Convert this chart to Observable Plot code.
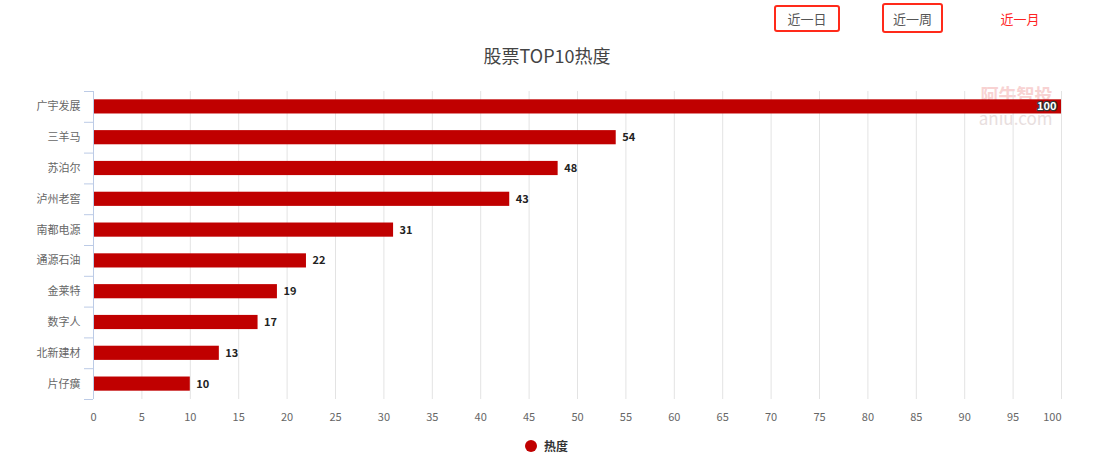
<!DOCTYPE html>
<html><head><meta charset="utf-8">
<script src="https://cdn.jsdelivr.net/npm/d3@7"></script>
<script src="https://cdn.jsdelivr.net/npm/@observablehq/plot@0.6"></script>
<style>
html,body{margin:0;padding:0;background:#fff;}
body{width:1108px;height:468px;position:relative;overflow:hidden;font-family:"Noto Sans CJK SC","Noto Sans",sans-serif;}
#chart{position:absolute;left:0;top:0;}
.btn{position:absolute;box-sizing:border-box;font-size:13px;color:#555;display:flex;align-items:center;justify-content:center;}
.boxed{border:2px solid #ff2a1a;border-radius:3px;}
#title{position:absolute;left:0;width:1094px;top:42px;text-align:center;font-size:18px;color:#444;}
#legend{position:absolute;top:437px;left:525px;display:flex;align-items:center;font-size:12px;color:#333;font-weight:bold;}
#legend span.dot{width:12px;height:12px;border-radius:50%;background:#c00000;display:inline-block;margin-right:7px;}
</style>
</head><body>
<div id="chart"></div>
<div id="title">股票TOP10热度</div>
<div class="btn boxed" style="left:774px;top:5px;width:66px;height:27px;">近一日</div>
<div class="btn boxed" style="left:882px;top:3px;width:61px;height:30px;">近一周</div>
<div class="btn" style="left:990px;top:5px;width:60px;height:27px;color:#ff2222;">近一月</div>
<div id="legend"><span class="dot"></span>热度</div>
<script>
const categories = ["广宇发展","三羊马","苏泊尔","泸州老窖","南都电源","通源石油","金莱特","数字人","北新建材","片仔癀"];
const values = [100,54,48,43,31,22,19,17,13,10];
const xTicks = [0,5,10,15,20,25,30,35,40,45,50,55,60,65,70,75,80,85,90,95,100];
const seriesName = "热度";

const data = categories.map((c,i)=>({name:c, value:values[i]}));
const maxVal = d3.max(values);
const inside = data.filter(d=>d.value===maxVal);
const outside = data.filter(d=>d.value!==maxVal);
const step = (468-91-69)/categories.length;

const chart = Plot.plot({
  width:1108, height:468,
  marginTop:91, marginBottom:69, marginLeft:93, marginRight:47,
  style:{fontFamily:'"Noto Sans CJK SC","Noto Sans",sans-serif', background:"transparent"},
  x:{domain:[0,100], label:null},
  y:{domain:categories, paddingInner:0.54, paddingOuter:0.27, align:0.5, round:false, label:null},
  marks:[
    Plot.text(["阿牛智投"],{frameAnchor:"top-right", lineAnchor:"middle", dx:-9, dy:5, fontSize:18, fontWeight:"bold", fill:"#f8d2d2", textAnchor:"end"}),
    Plot.text(["aniu.com"],{frameAnchor:"top-right", lineAnchor:"middle", dx:-9, dy:28, fontSize:17, fill:"#e8dede", textAnchor:"end"}),
    Plot.gridX(xTicks,{stroke:"#e3e3e3", strokeOpacity:1}),
    Plot.barX(data,{x:"value", y:"name", fill:"#c00000"}),
    Plot.ruleX([0],{stroke:"#bccbe6"}),
    Plot.axisY({ticks:categories, tickSize:0, tickPadding:13, fontSize:11, fill:"#666", label:null}),
    Plot.axisY({ticks:categories, text:null, tickSize:9, dy:-step/2, stroke:"#bccbe6", label:null}),
    Plot.axisY({ticks:[categories[categories.length-1]], text:null, tickSize:9, dy:step/2, stroke:"#bccbe6", label:null}),
    Plot.axisX({ticks:xTicks.filter(t=>t!==100), tickSize:0, tickPadding:14, fontSize:11, fill:"#666", label:null}),
    Plot.axisX({ticks:[100], tickSize:0, tickPadding:14, fontSize:11, fill:"#666", textAnchor:"end", label:null}),
    Plot.text(outside,{x:"value", y:"name", text:d=>String(d.value), textAnchor:"start", dx:6, fontSize:11, fontWeight:"bold", fill:"#222"}),
    Plot.text(inside,{x:"value", y:"name", text:d=>String(d.value), textAnchor:"end", dx:-5, fontSize:11, fontWeight:"bold", fill:"#fff", stroke:"#333", strokeWidth:2.5})
  ]
});
document.getElementById("chart").appendChild(chart);
</script>
</body></html>
